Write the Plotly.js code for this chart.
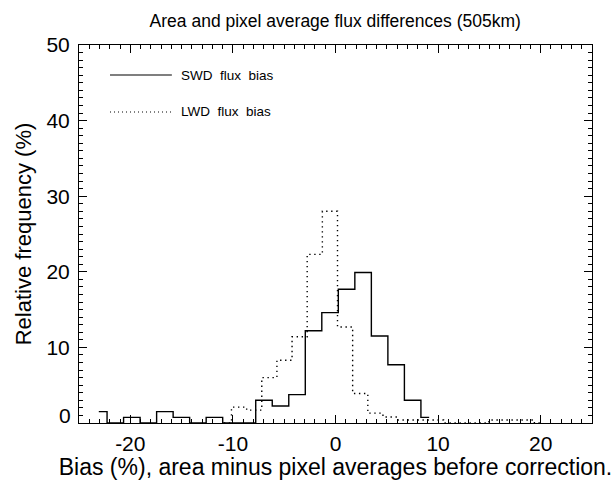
<!DOCTYPE html>
<html>
<head>
<meta charset="utf-8">
<script src="https://cdn.plot.ly/plotly-3.0.1.min.js"></script>
<style>html,body{margin:0;padding:0;background:#fff;}#chart{width:614px;height:480px;}</style>
</head>
<body>
<div id="chart"></div>
<script>
// Bin centres (%) and relative frequencies (%)
const swdX = [-23.07, -21.46, -19.85, -18.24, -16.63, -15.02, -13.41, -11.80, -10.19, -8.58,
              -6.97, -5.36, -3.75, -2.14, -0.53, 1.08, 2.69, 4.30, 5.91, 7.52, 9.13];
const swdY = [1.5, 0, 0.75, 0, 1.5, 0.75, 0, 0.75, 0, 0,
              3.0, 2.25, 3.75, 12.2, 14.6, 17.7, 19.9, 11.5, 7.7, 3.0, 0.75];

const lwdX = [-10.88, -9.40, -7.92, -6.45, -4.97, -3.50, -2.02, -0.54, 0.93, 2.41, 3.89,
              5.36, 6.84, 8.31, 9.79, 11.27, 12.74, 14.22, 15.69, 17.17, 18.65, 20.12];
const lwdY = [0, 2.1, 1.7, 6.0, 8.3, 11.4, 22.3, 28.0, 12.7, 3.9, 1.3,
              0.8, 0.4, 0.4, 0.4, 0, 0, 0, 0.4, 0.4, 0.4, 0];

const seriesNames = ['SWD flux bias', 'LWD flux bias'];
const xTickVals = [-20, -10, 0, 10, 20];
const xTickText = ['-20', '-10', '0', '10', '20'];
const yTickVals = [0, 10, 20, 30, 40, 50];
const yTickText = ['', '10', '20', '30', '40', '50'];
const yZeroLabel = '0';

const FONT = 'Liberation Sans, Arial, Helvetica, sans-serif';

const traces = [
  {x: swdX, y: swdY, type: 'scatter', mode: 'lines', name: seriesNames[0],
   line: {shape: 'hvh', color: '#000', width: 1.4}, cliponaxis: true},
  {x: lwdX, y: lwdY, type: 'scatter', mode: 'lines', name: seriesNames[1],
   line: {shape: 'hvh', color: '#000', width: 1.4, dash: '1.4px,3.6px'}, cliponaxis: true}
];

const axisCommon = {
  showgrid: false, zeroline: false, showline: true, linecolor: '#000', linewidth: 1,
  mirror: 'allticks', ticks: 'inside', ticklen: 8, tickwidth: 1, tickcolor: '#000',
  tickfont: {family: FONT, size: 21, color: '#000'}
};

const layout = {
  width: 614, height: 480,
  margin: {l: 79, r: 22, t: 45, b: 57, pad: 0},
  paper_bgcolor: '#fff', plot_bgcolor: '#fff',
  showlegend: false,
  title: {text: 'Area and pixel average flux differences (505km)',
          font: {family: FONT, size: 17.5, color: '#000'},
          x: 0.546, xanchor: 'center', y: 0.956, yanchor: 'middle'},
  xaxis: Object.assign({}, axisCommon, {
    range: [-25, 25], tickmode: 'array', tickvals: xTickVals, ticktext: xTickText,
    ticklabelstandoff: 2,
    minor: {dtick: 1, ticklen: 4, tickwidth: 1, tickcolor: '#000', ticks: 'inside', showgrid: false},
    title: {text: 'Bias (%), area minus pixel averages before correction.',
            font: {family: FONT, size: 23, color: '#000'}, standoff: 0}
  }),
  yaxis: Object.assign({}, axisCommon, {
    range: [0, 50], tickmode: 'array', tickvals: yTickVals, ticktext: yTickText,
    ticklabelstandoff: 4,
    minor: {dtick: 1, ticklen: 4, tickwidth: 1, tickcolor: '#000', ticks: 'inside', showgrid: false},
    title: {text: 'Relative frequency (%)',
            font: {family: FONT, size: 22, color: '#000'}, standoff: 8}
  }),
  shapes: [
    {type: 'line', xref: 'paper', yref: 'paper', x0: 0.0604, x1: 0.181, y0: 0.9206, y1: 0.9206,
     line: {color: '#000', width: 1.2}},
    {type: 'line', xref: 'paper', yref: 'paper', x0: 0.0604, x1: 0.181, y0: 0.8228, y1: 0.8228,
     line: {color: '#000', width: 1.2, dash: '1px,3px'}}
  ],
  annotations: [
    {xref: 'paper', yref: 'paper', x: 0.195, y: 0.9206, xanchor: 'left', yanchor: 'middle',
     text: seriesNames[0].replace(/ /g, '\u00a0\u00a0'), showarrow: false,
     font: {family: FONT, size: 13.5, color: '#000'}},
    {xref: 'paper', yref: 'paper', x: 0.195, y: 0.8228, xanchor: 'left', yanchor: 'middle',
     text: seriesNames[1].replace(/ /g, '\u00a0\u00a0'), showarrow: false,
     font: {family: FONT, size: 13.5, color: '#000'}},
    {xref: 'paper', yref: 'y', x: -0.0117, y: 0, xanchor: 'right', yanchor: 'middle', yshift: 8,
     text: yZeroLabel, showarrow: false, font: {family: FONT, size: 21, color: '#000'}}
  ]
};

Plotly.newPlot('chart', traces, layout, {displayModeBar: false, staticPlot: true});
</script>
</body>
</html>
